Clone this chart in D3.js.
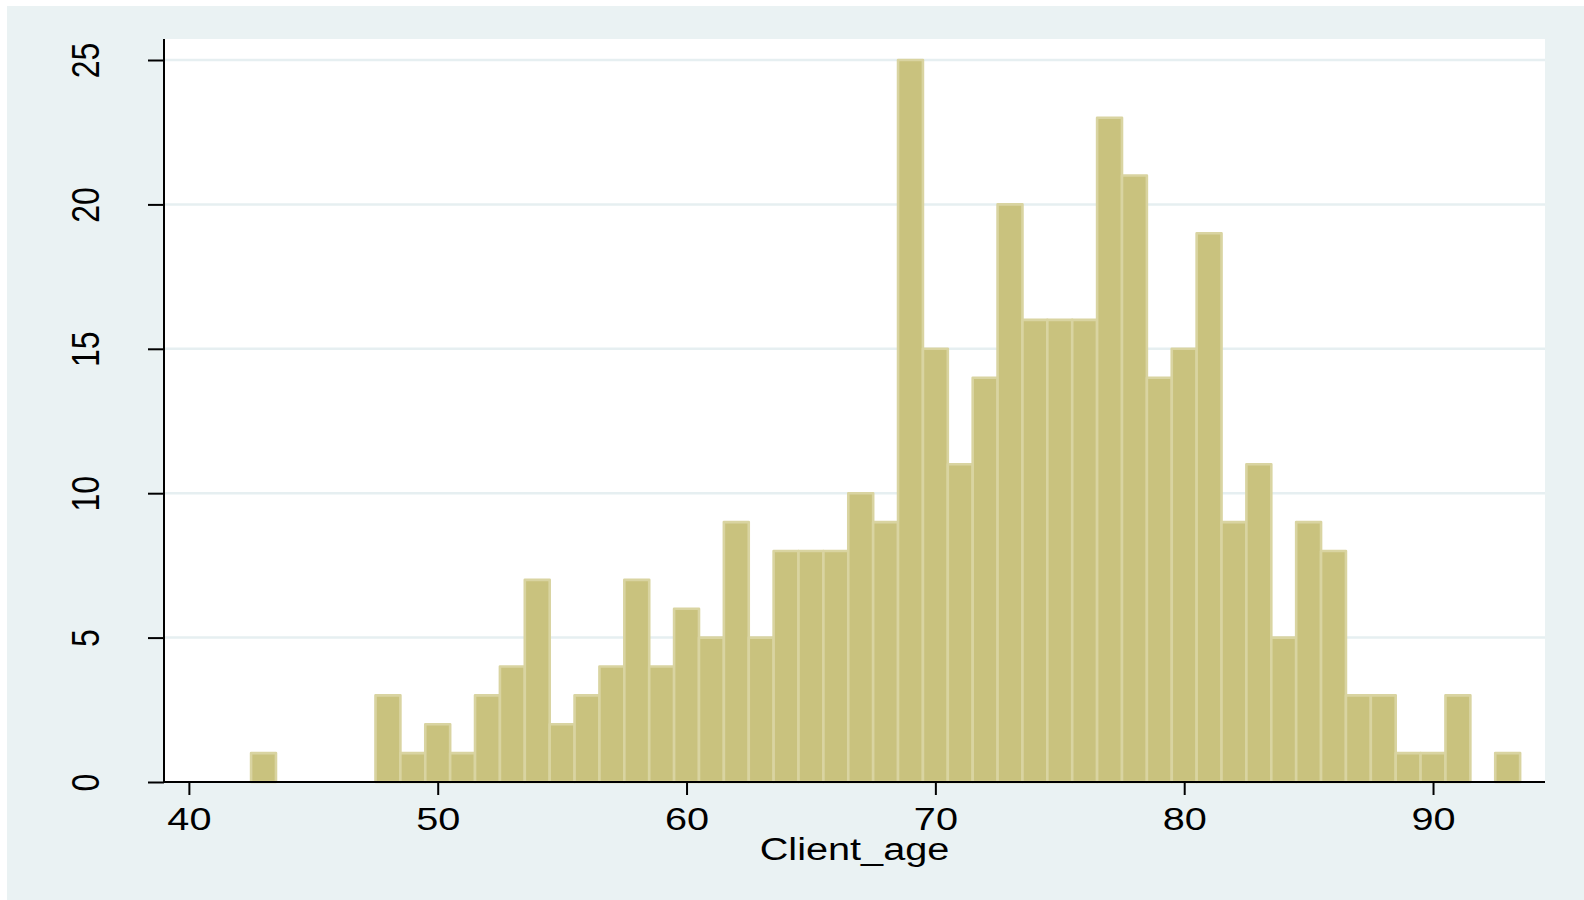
<!DOCTYPE html>
<html>
<head>
<meta charset="utf-8">
<script src="https://cdn.jsdelivr.net/npm/d3@7"></script>
<style>
  html, body { margin: 0; padding: 0; background: #ffffff; }
  svg { display: block; }
  text { font-family: "Liberation Sans", Arial, Helvetica, sans-serif; fill: #000; }
</style>
</head>
<body>
<svg id="chart" width="1584" height="900"></svg>
<script>
// ---- data ----
const binStart = 42.5;   // left edge of first bin (Client_age)
const binWidth = 1;      // bin width
const counts = [1, 0, 0, 0, 0, 3, 1, 2, 1, 3,
                4, 7, 2, 3, 4, 7, 4, 6, 5, 9,
                5, 8, 8, 8, 10, 9, 25, 15, 11, 14,
                20, 16, 16, 16, 23, 21, 14, 15, 19, 9,
                11, 5, 9, 8, 3, 3, 1, 1, 3, 0, 1];
const xTicks = [40, 50, 60, 70, 80, 90];
const yTicks = [0, 5, 10, 15, 20, 25];
const xTitle = "Client_age";

// ---- layout ----
const W = 1584, H = 900;
const plot = { left: 164, right: 1545, top: 39, bottom: 782 };
const stretch = 1.24;   // horizontal text stretch seen in the reference
const fontSize = 32;

const bins = counts.map((c, i) => ({ x0: binStart + i * binWidth, x1: binStart + (i + 1) * binWidth, n: c }));

const x = d3.scaleLinear().domain([39, 94.5]).range([plot.left, plot.right]);
const y = d3.scaleLinear().domain([0, 25]).range([plot.bottom, 60]);

const svg = d3.select("#chart");

// outer background
svg.append("rect").attr("x", 7).attr("y", 6).attr("width", W - 7).attr("height", H - 6)
  .attr("fill", "#eaf2f3");

// plot region
svg.append("rect").attr("x", plot.left).attr("y", plot.top)
  .attr("width", plot.right - plot.left).attr("height", plot.bottom - plot.top)
  .attr("fill", "#ffffff");

// gridlines
svg.append("g").selectAll("line").data(yTicks.filter(d => d > 0)).join("line")
  .attr("x1", plot.left).attr("x2", plot.right)
  .attr("y1", d => y(d)).attr("y2", d => y(d))
  .attr("stroke", "#e6eff1").attr("stroke-width", 2.5);

// bars
svg.append("g").selectAll("rect").data(bins.filter(b => b.n > 0)).join("rect")
  .attr("x", d => x(d.x0)).attr("width", d => x(d.x1) - x(d.x0))
  .attr("y", d => y(d.n)).attr("height", d => y(0) - y(d.n))
  .attr("fill", "#c9c27e").attr("stroke", "#d9d4a1").attr("stroke-width", 2.6)
  .attr("stroke-linejoin", "round");

// x axis
const xAxis = d3.axisBottom(x).tickValues(xTicks).tickSize(13).tickSizeOuter(0).tickPadding(0);
const gx = svg.append("g").attr("transform", `translate(0,${plot.bottom})`).call(xAxis);
gx.select(".domain").attr("stroke", "#000").attr("stroke-width", 2)
  .attr("d", `M${plot.left},0H${plot.right}`);
gx.selectAll(".tick line").attr("stroke", "#000").attr("stroke-width", 2);
gx.selectAll(".tick text")
  .attr("font-size", fontSize).attr("y", 0).attr("dy", null)
  .attr("transform", `translate(0,48) scale(${stretch},1)`)
  .attr("text-anchor", "middle");

// y axis
const yAxis = d3.axisLeft(y).tickValues(yTicks).tickSize(16).tickSizeOuter(0).tickPadding(0);
const gy = svg.append("g").attr("transform", `translate(${plot.left},0)`).call(yAxis);
gy.select(".domain").attr("stroke", "#000").attr("stroke-width", 2)
  .attr("d", `M0,${plot.top}V${plot.bottom}`);
gy.selectAll(".tick line").attr("stroke", "#000").attr("stroke-width", 2);
gy.selectAll(".tick text")
  .attr("font-size", fontSize).attr("x", 0).attr("y", 0).attr("dy", null)
  .attr("text-anchor", "middle")
  .attr("transform", `translate(${99 - plot.left},0) scale(${stretch},1) rotate(-90)`);

// x title
svg.append("text")
  .attr("font-size", 31)
  .attr("text-anchor", "middle")
  .attr("transform", `translate(${(plot.left + plot.right) / 2},860) scale(${stretch + 0.04},1)`)
  .text(xTitle);
</script>
</body>
</html>
